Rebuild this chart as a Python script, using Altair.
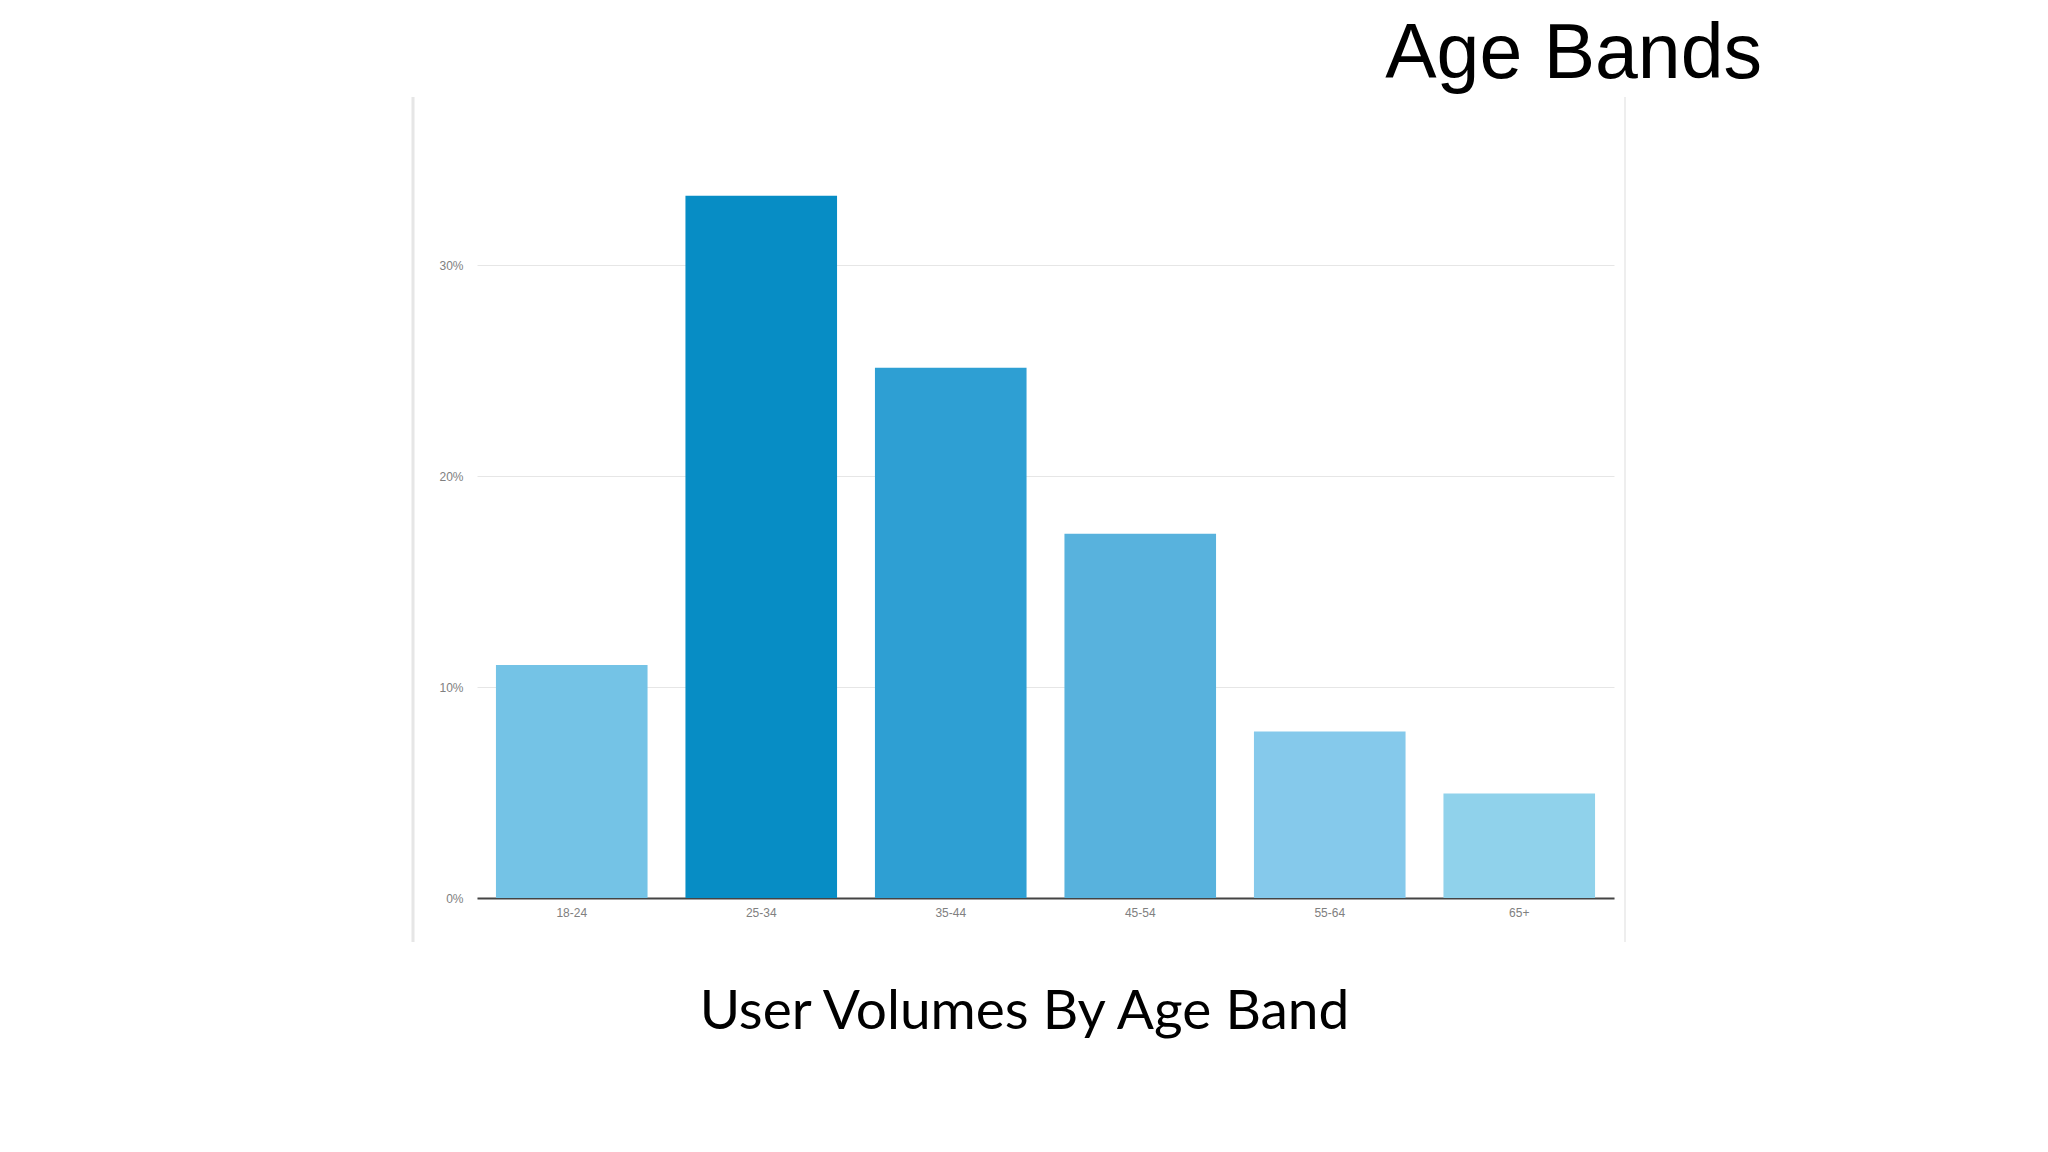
import altair as alt
import pandas as pd

bands = ["18-24", "25-34", "35-44", "45-54", "55-64", "65+"]
shares = [11.05, 33.3, 25.15, 17.27, 7.9, 4.96]
colors = ["#74C3E6", "#078DC5", "#2E9FD3", "#58B2DD", "#85C9EB", "#90D2EB"]
y_ticks = [0, 10, 20, 30]
chart_title = "Age Bands"
caption = "User Volumes By Age Band"

df = pd.DataFrame({"band": bands, "share": shares})

bars = alt.Chart(df).mark_bar().encode(
    x=alt.X(
        "band:N",
        sort=bands,
        scale=alt.Scale(paddingInner=0.2, paddingOuter=0.1),
        axis=alt.Axis(
            title=caption,
            titleFont="Lato",
            titleFontSize=55,
            titleFontWeight="normal",
            titleColor="#000000",
            titleBaseline="alphabetic",
            titleAlign="center",
            titleX=547,
            titleY=130,
            labelAngle=0,
            labelFont="Liberation Sans",
            labelFontSize=12,
            labelColor="#808080",
            labelPadding=9,
            ticks=False,
            domainColor="#444444",
            domainWidth=2,
            grid=False,
        ),
    ),
    y=alt.Y(
        "share:Q",
        scale=alt.Scale(domain=[0, 35], nice=False),
        axis=alt.Axis(
            title=None,
            values=y_ticks,
            labelExpr="datum.value + '%'",
            labelFont="Liberation Sans",
            labelFontSize=12,
            labelColor="#808080",
            labelPadding=14,
            ticks=False,
            domain=False,
            grid=True,
            gridColor="#e6e6e6",
            gridWidth=1,
        ),
    ),
    color=alt.Color("band:N", scale=alt.Scale(domain=bands, range=colors), legend=None),
)

frame_df = pd.DataFrame({"k": [0]})
left_line = alt.Chart(frame_df).mark_rule(color="#e6e6e6", strokeWidth=3).encode(
    x=alt.value(-64), y=alt.value(-63), y2=alt.value(782)
)
right_line = alt.Chart(frame_df).mark_rule(color="#eeeeee", strokeWidth=2).encode(
    x=alt.value(1148), y=alt.value(-63), y2=alt.value(782)
)
title_text = alt.Chart(frame_df).mark_text(
    text=chart_title,
    font="Liberation Sans",
    fontSize=77,
    color="#000000",
    align="right",
    baseline="alphabetic",
).encode(x=alt.value(1285), y=alt.value(-82))

chart = alt.layer(left_line, right_line, bars, title_text).properties(
    width=1137,
    height=738,
    padding={"left": 469, "top": 152, "right": 400, "bottom": 200},
    autosize=alt.AutoSizeParams(type="none"),
).configure_view(stroke=None)

chart.save("out.html", embed_options={"renderer": "svg", "actions": False})
